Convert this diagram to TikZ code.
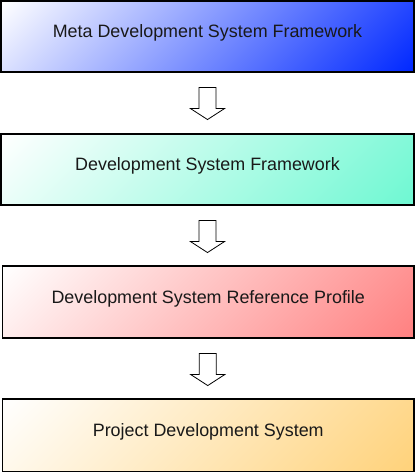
\documentclass[tikz,border=0pt]{standalone}
\usepackage{fontspec}
\setmainfont{Liberation Sans}
\usetikzlibrary{calc}
\definecolor{cBlue}{RGB}{0,40,255}
\definecolor{cMint}{RGB}{110,248,210}
\definecolor{cRed}{RGB}{255,128,128}
\definecolor{cGold}{RGB}{255,210,122}
\pgfdeclarehorizontalshading{shBlue}{100bp}{color(0bp)=(white); color(14.64bp)=(white); color(85.36bp)=(cBlue); color(100bp)=(cBlue)}
\pgfdeclarehorizontalshading{shMint}{100bp}{color(0bp)=(white); color(14.64bp)=(white); color(85.36bp)=(cMint); color(100bp)=(cMint)}
\pgfdeclarehorizontalshading{shRed}{100bp}{color(0bp)=(white); color(14.64bp)=(white); color(85.36bp)=(cRed); color(100bp)=(cRed)}
\pgfdeclarehorizontalshading{shGold}{100bp}{color(0bp)=(white); color(14.64bp)=(white); color(85.36bp)=(cGold); color(100bp)=(cGold)}
\tikzset{
  box/.style={draw=black, line width=1.1pt, shading angle=-45, inner sep=0pt,
    minimum height=71pt, text height=10pt, text depth=7.4pt,
    font=\fontsize{17.9}{20}\selectfont, text=black!90},
  blk/.style={draw=black, line width=0.8pt, fill=white, line join=miter}
}
\begin{document}
\begin{tikzpicture}[x=1pt,y=-1pt]
\useasboundingbox (0,0) rectangle (415,472);
\node[box, shading=shBlue, minimum width=413pt] (b1) at (207.5,36.5) {Meta Development System Framework};
\node[box, shading=shMint, minimum width=413pt] (b2) at (207.5,169.5) {Development System Framework};
\node[box, shading=shRed, minimum width=411.5pt, minimum height=72pt] (b3) at (208.25,302) {Development System Reference Profile};
\node[box, shading=shGold, minimum width=411.5pt, minimum height=72.5pt] (b4) at (208.25,435.25) {Project Development System};
\draw[blk] ($(b1.south)+(0,15)$) ++(-8.5,0) -- ++(17,0) -- ++(0,21) -- ++(8.5,0) -- ++(-17,11) -- ++(-17,-11) -- ++(8.5,0) -- cycle;
\draw[blk] ($(b2.south)+(0,15)$) ++(-8.5,0) -- ++(17,0) -- ++(0,21) -- ++(8.5,0) -- ++(-17,11) -- ++(-17,-11) -- ++(8.5,0) -- cycle;
\draw[blk] ($(b3.south)+(-0.5,15)$) ++(-8.5,0) -- ++(17,0) -- ++(0,21) -- ++(8.5,0) -- ++(-17,11) -- ++(-17,-11) -- ++(8.5,0) -- cycle;
\end{tikzpicture}
\end{document}
